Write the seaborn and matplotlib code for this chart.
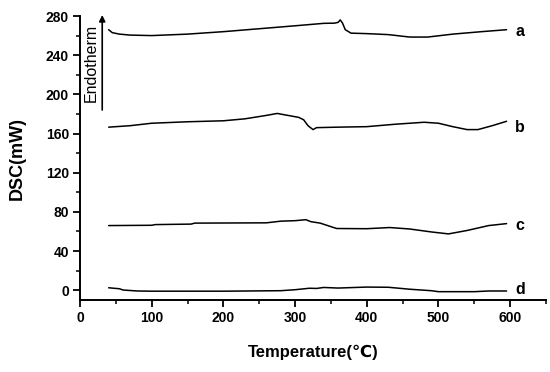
import numpy as np
import pandas as pd
import seaborn as sns
import matplotlib.pyplot as plt
from matplotlib.ticker import MultipleLocator

# DSC curves
temp_a = [40, 45, 55, 70, 100, 150, 200, 250, 300, 340, 355, 360, 363, 366, 370, 378, 400, 430, 460, 485, 520, 560, 595]
dsc_a = [266, 263, 261.5, 260.5, 260, 261.5, 264, 267, 270, 272.5, 272.7, 273.5, 276, 273, 266, 262.5, 262, 261, 258.5, 258.5, 261.5, 264, 266]

temp_b = [40, 70, 100, 150, 200, 230, 260, 275, 290, 305, 312, 318, 325, 330, 360, 400, 440, 480, 500, 520, 540, 555, 575, 595]
dsc_b = [166.5, 168, 170.5, 172, 173, 175, 178.5, 180.5, 178.5, 176.5, 174, 168, 164, 166, 166.5, 167, 169.5, 171.5, 170.5, 167, 164, 164, 168, 172.5]

temp_c = [40, 100, 105, 155, 160, 260, 280, 300, 315, 322, 335, 358, 400, 432, 460, 490, 514, 540, 570, 595]
dsc_c = [66, 66.3, 67, 67.5, 68.5, 68.8, 70.5, 71, 72, 70, 68.5, 63, 62.8, 64, 62.5, 59.5, 57.5, 61, 66, 68]

temp_d = [40, 47, 55, 60, 80, 100, 200, 280, 300, 320, 330, 340, 360, 400, 430, 460, 490, 500, 550, 570, 595]
dsc_d = [2.5, 2, 1.5, 0.2, -0.8, -1, -1, -0.5, 0.5, 2, 1.8, 2.8, 2.2, 3.2, 3, 1, -0.5, -1.5, -1.5, -0.8, -0.8]

curve_names = ["a", "b", "c", "d"]
label_pos = [264.5, 166, 66, 0.7]

frames = []
for name, t, v in zip(curve_names, [temp_a, temp_b, temp_c, temp_d], [dsc_a, dsc_b, dsc_c, dsc_d]):
    frames.append(pd.DataFrame({"T": t, "DSC": v, "sample": name}))
df = pd.concat(frames, ignore_index=True)

sns.set_style("ticks", {"axes.edgecolor": "black", "text.color": "black",
                        "xtick.color": "black", "ytick.color": "black",
                        "axes.labelcolor": "black"})
plt.rcParams["font.family"] = ["Liberation Sans", "DejaVu Sans"]

fig = plt.figure(figsize=(5.5, 3.72), dpi=100)
ax = fig.add_axes([80 / 550, 1 - 300 / 372, 466 / 550, 284 / 372])

sns.lineplot(data=df, x="T", y="DSC", units="sample", estimator=None, sort=False,
             color="black", linewidth=1.1, ax=ax)

for name, y in zip(curve_names, label_pos):
    ax.text(607, y, name, fontsize=11.5, fontweight="bold", va="center", ha="left")

# Endotherm arrow
ax.annotate("", xy=(31, 281), xytext=(31, 184), annotation_clip=False,
            arrowprops=dict(arrowstyle="-|>", color="black", lw=1.2, mutation_scale=9,
                            shrinkA=0, shrinkB=0))
ax.text(15, 232, "Endotherm", rotation=90, fontsize=11.5, va="center", ha="center")

ax.set_xlim(0, 650)
ax.set_ylim(-10, 280)
ax.set_xticks(range(0, 601, 100))
ax.xaxis.set_minor_locator(MultipleLocator(50))
ax.yaxis.set_major_locator(MultipleLocator(40))
ax.yaxis.set_minor_locator(MultipleLocator(20))
ax.tick_params(which="major", length=5, width=1.3, labelsize=10, pad=3)
ax.tick_params(which="minor", length=3, width=1.1)
for lab in ax.get_xticklabels() + ax.get_yticklabels():
    lab.set_fontweight("bold")

ax.set_xlabel("Temperature(℃)", fontsize=12, fontweight="bold", labelpad=14)
ax.set_ylabel("DSC(mW)", fontsize=13, fontweight="bold", labelpad=14)

sns.despine(ax=ax)
for s in ["left", "bottom"]:
    ax.spines[s].set_linewidth(1.4)

fig.savefig("out.png", dpi=100)
